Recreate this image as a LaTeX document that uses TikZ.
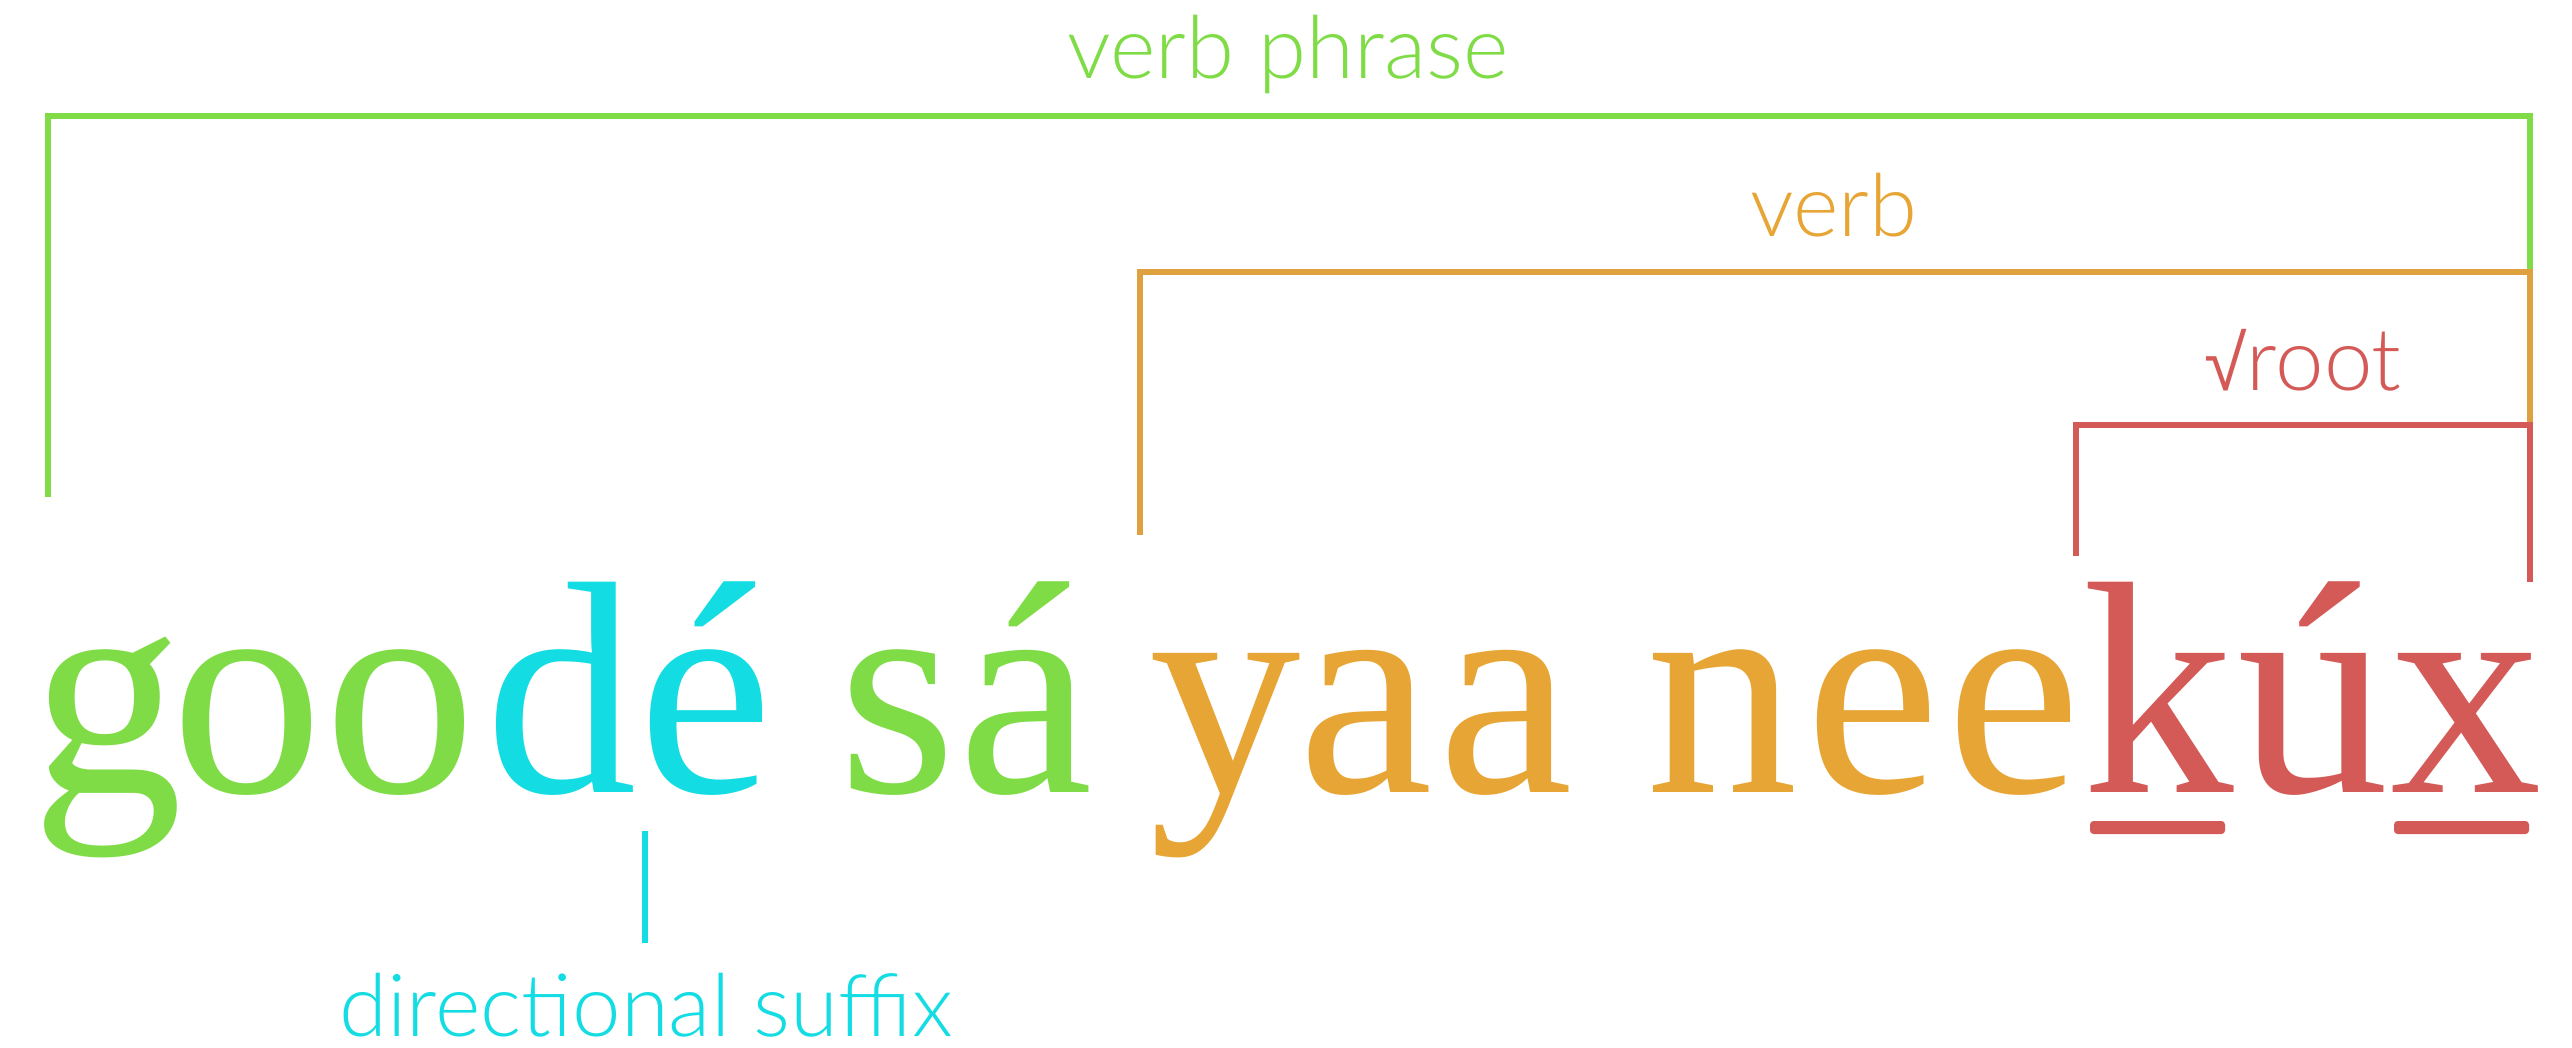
\documentclass[tikz,border=0pt]{standalone}
\usepackage{fontspec}
\setmainfont{Liberation Serif}
\IfFontExistsTF{Lato Light}{\newfontfamily\labelfont{Lato Light}}{\newfontfamily\labelfont{Liberation Sans}}
\newfontfamily\rootsymfont{Liberation Sans}
\definecolor{vpgreen}{HTML}{7FDC47}
\definecolor{sfxcyan}{HTML}{13DCE3}
\definecolor{verborange}{HTML}{E7A535}
\definecolor{verbline}{HTML}{DFA040}
\definecolor{rootred}{HTML}{D45A57}
\begin{document}
\begin{tikzpicture}[x=0.01cm,y=-0.01cm]
\tikzset{
  bracket/.style={line width=1.6pt, line join=miter, line cap=butt},
  lbl/.style={inner sep=0pt, anchor=base, text depth=0pt, font=\labelfont\fontsize{24.75}{28}\selectfont},
  letter/.style={inner sep=0pt, anchor=base, font=\fontsize{86.2}{90}\selectfont}
}
\useasboundingbox (0,0) rectangle (2572,1047);
% main phrase, letter by letter
\node[letter, text=vpgreen]    (l1)  at (107,792)  {g};
\node[letter, text=vpgreen]    (l2)  at (247,792)  {o};
\node[letter, text=vpgreen]    (l3)  at (400,792)  {o};
\node[letter, text=sfxcyan]    (l4)  at (561,792)  {d};
\node[letter, text=sfxcyan]    (l5)  at (706,792)  {é};
\node[letter, text=vpgreen]    (l6)  at (897,792)  {s};
\node[letter, text=vpgreen]    (l7)  at (1026,792) {á};
\node[letter, text=verborange] (l8)  at (1225,792) {y};
\node[letter, text=verborange] (l9)  at (1366,792) {a};
\node[letter, text=verborange] (l10) at (1506,792) {a};
\node[letter, text=verborange] (l11) at (1722,792) {n};
\node[letter, text=verborange] (l12) at (1873,792) {e};
\node[letter, text=verborange] (l13) at (2014,792) {e};
\node[letter, text=rootred]    (l14) at (2158,792) {k};
\node[letter, text=rootred]    (l15) at (2313,792) {ú};
\node[letter, text=rootred]    (l16) at (2466,792) {x};
% labels
\node[lbl, text=vpgreen] (vplabel) at (1288,78) {verb phrase};
\node[lbl, text=verborange] (vlabel) at (1834,236) {verb};
\node[lbl, text=rootred] (rlabel) at (2303,390) {{\rootsymfont\fontsize{22}{26}\selectfont √}root};
\node[lbl, text=sfxcyan] (slabel) at (646,1036) {directional suffix};
% bracket coordinates
\coordinate (vpL) at (48,497);
\coordinate (vpTL) at (48,116);
\coordinate (vpTR) at (2530,116);
\coordinate (vpR) at (2530,272);
\coordinate (vL) at (1140,535);
\coordinate (vTL) at (1140,272);
\coordinate (vTR) at (2530,272);
\coordinate (vR) at (2530,425);
\coordinate (rL) at (2076,556);
\coordinate (rTL) at (2076,425);
\coordinate (rTR) at (2530,425);
\coordinate (rR) at (2530,582);
\coordinate (sTop) at (645,831);
\coordinate (sBot) at (645,943);
\draw[bracket, vpgreen] (vpL) -- (vpTL) -- (vpTR) -- (vpR);
\draw[bracket, verbline] (vL) -- (vTL) -- (vTR) -- (vR);
\draw[bracket, rootred] (rL) -- (rTL) -- (rTR) -- (rR);
\draw[bracket, sfxcyan] (sTop) -- (sBot);
% underlines
\fill[rootred, rounded corners=1pt] (2090,821) rectangle (2225,834);
\fill[rootred, rounded corners=1pt] (2394,821) rectangle (2529,834);
\end{tikzpicture}
\end{document}
